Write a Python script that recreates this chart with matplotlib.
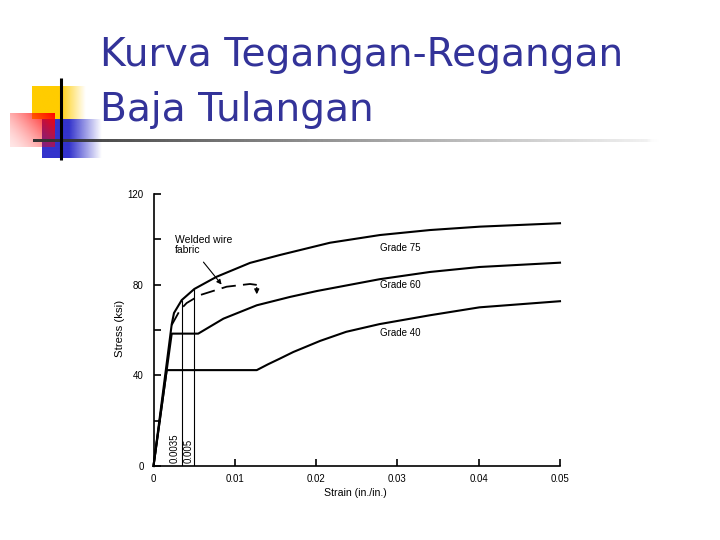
import numpy as np
import matplotlib
matplotlib.use("Agg")
import matplotlib.pyplot as plt
from matplotlib.patches import FancyArrowPatch

# ---------------- data ----------------
title_lines = ["Kurva Tegangan-Regangan", "Baja Tulangan"]

grade75_strain = [0, 0.00224, 0.00252, 0.00347, 0.00502, 0.00777, 0.01187, 0.01556,
                  0.02171, 0.02786, 0.03401, 0.04016, 0.05]
grade75_stress = [0, 62.5, 67.5, 73.2, 78.1, 83.5, 89.6, 93.1, 98.5, 101.9, 104.1, 105.6, 107.1]

grade60_strain = [0, 0.00224, 0.0055, 0.0086, 0.0127, 0.0168, 0.0201, 0.0278, 0.034, 0.0401, 0.05]
grade60_stress = [0, 58.4, 58.4, 65.0, 70.9, 74.6, 77.2, 82.4, 85.6, 87.8, 89.7]

grade40_strain = [0, 0.00162, 0.0127, 0.0141, 0.0155, 0.0172, 0.0205, 0.0237, 0.0278, 0.034, 0.0401, 0.05]
grade40_stress = [0, 42.3, 42.3, 44.9, 47.3, 50.3, 55.2, 59.2, 62.6, 66.5, 70.0, 72.7]

wwf_strain = [0.00224, 0.00326, 0.00408, 0.00572, 0.0090, 0.01187, 0.0127]
wwf_stress = [62.2, 68.8, 71.9, 75.4, 79.1, 80.3, 79.9]
wwf_end_drop = 74.5

ref_strains = [0.0035, 0.005]
ref_tops = [73.2, 78.1]
ref_labels = ["0.0035", "0.005"]

grade_names = ["Grade 75", "Grade 60", "Grade 40"]
grade_label_y = [96.0, 80.0, 58.5]
grade_label_x = 0.0278

xticks = [0, 0.01, 0.02, 0.03, 0.04, 0.05]
xtick_labels = ["0", "0.01", "0.02", "0.03", "0.04", "0.05"]
yticks = [0, 20, 40, 60, 80, 100, 120]
ytick_labels = ["0", "", "40", "", "80", "", "120"]

# ---------------- figure ----------------
W, H = 720, 540
fig = plt.figure(figsize=(7.2, 5.4), dpi=100)
fig.patch.set_facecolor("white")

# background / decoration axes in pixel coordinates
bg = fig.add_axes([0, 0, 1, 1], zorder=0)
bg.set_xlim(0, W)
bg.set_ylim(H, 0)
bg.axis("off")


def grad_rect(ax, x0, x1, y0, y1, rgb, alpha_fn, z):
    nx, ny = 120, 60
    xs = np.linspace(0, 1, nx)
    ys = np.linspace(0, 1, ny)
    X, Y = np.meshgrid(xs, ys)
    img = np.zeros((ny, nx, 4))
    img[..., 0] = rgb[0]
    img[..., 1] = rgb[1]
    img[..., 2] = rgb[2]
    img[..., 3] = np.clip(alpha_fn(X, Y), 0, 1)
    ax.imshow(img, extent=(x0, x1, y1, y0), origin="upper", zorder=z,
              interpolation="bilinear", aspect="auto")


# yellow square (solid then fades to the right)
grad_rect(bg, 32, 86, 86, 119, (1.0, 0.80, 0.0),
          lambda X, Y: np.where(X < 0.5, 1.0, 1 - (X - 0.5) / 0.5), 1)
# blue square
grad_rect(bg, 42, 102, 119, 158, (0.2, 0.2, 0.8),
          lambda X, Y: np.where(X < 0.45, 1.0, 1 - (X - 0.45) / 0.55), 2)
# red rectangle (strong at top-right, fading to bottom-left)
grad_rect(bg, 10, 55, 113, 147, (1.0, 0.0, 0.0),
          lambda X, Y: 0.1 + 0.9 * (0.6 * X + 0.4 * (1 - Y)) ** 1.5, 3)
# vertical black bar
bg.plot([61, 61], [78, 160], color="black", lw=2.2, zorder=5, solid_capstyle="butt")
# horizontal rule fading to the right
grad_rect(bg, 33, 665, 139.5, 142.5, (0.2, 0.2, 0.2),
          lambda X, Y: np.clip(1 - X ** 0.9, 0, 1) * 0.95 + 0.05 * (X < 0.98), 4)

# title
for line, base in zip(title_lines, [66, 121]):
    bg.text(100, base, line, fontsize=28.2, color="#333399",
            family="DejaVu Sans", va="baseline", ha="left", zorder=6)

# ---------------- chart axes ----------------
x0px, x1px, y0px, y1px = 153.5, 560, 466, 194
ax = fig.add_axes([x0px / W, 1 - y0px / H, (x1px - x0px) / W, (y0px - y1px) / H], zorder=2)
ax.patch.set_alpha(0)
ax.set_xlim(0, 0.05)
ax.set_ylim(0, 120)
for s in ["top", "right"]:
    ax.spines[s].set_visible(False)
for s in ["left", "bottom"]:
    ax.spines[s].set_linewidth(1.2)
    ax.spines[s].set_color("black")

chart_font = "Liberation Sans"
fs = 7
ax.set_xticks(xticks)
ax.set_xticklabels(xtick_labels, fontsize=fs, family=chart_font)
ax.set_yticks(yticks)
ax.set_yticklabels(ytick_labels, fontsize=fs, family=chart_font)
ax.tick_params(axis="both", direction="in", length=5, width=1.2, color="black")
ax.tick_params(axis="x", pad=6)
ax.tick_params(axis="y", pad=7)

lw = 1.5
ax.plot(grade75_strain, grade75_stress, color="black", lw=lw, clip_on=False)
ax.plot(grade60_strain, grade60_stress, color="black", lw=lw, clip_on=False)
ax.plot(grade40_strain, grade40_stress, color="black", lw=lw, clip_on=False)
ax.plot(wwf_strain, wwf_stress, color="black", lw=1.3, dashes=(8, 4))
ax.add_patch(FancyArrowPatch((wwf_strain[-1], wwf_stress[-1]), (wwf_strain[-1], wwf_end_drop),
                             arrowstyle="-|>", mutation_scale=7, color="black", lw=1.0))

ax.vlines(ref_strains, 0, ref_tops, color="black", lw=0.8)
for xs, lab, dx in zip(ref_strains, ref_labels, [0.00085, 0.0007]):
    ax.text(xs - dx, 1.5, lab, rotation=90, fontsize=fs, family=chart_font,
            ha="center", va="bottom")

for name, yy in zip(grade_names, grade_label_y):
    ax.text(grade_label_x, yy, name, fontsize=fs, family=chart_font,
            ha="left", va="center")

ax.text(0.00265, 97.5, "Welded wire\nfabric", fontsize=7.5, family=chart_font,
        ha="left", va="center", linespacing=1.05)
ax.add_patch(FancyArrowPatch((0.00593, 90.9), (0.00859, 79.1),
                             arrowstyle="-|>", mutation_scale=7, color="black", lw=0.8))

ax.set_xlabel("Strain (in./in.)", fontsize=7.6, family=chart_font)
ax.xaxis.set_label_coords((355.8 - x0px) / (x1px - x0px), -(488 - y0px) / (y0px - y1px))
ax.set_ylabel("Stress (ksi)", fontsize=8.2, family=chart_font)
ax.yaxis.set_label_coords(-(x0px - 125) / (x1px - x0px), (y0px - 328) / (y0px - y1px))

fig.savefig("out.png", dpi=100, facecolor="white")
